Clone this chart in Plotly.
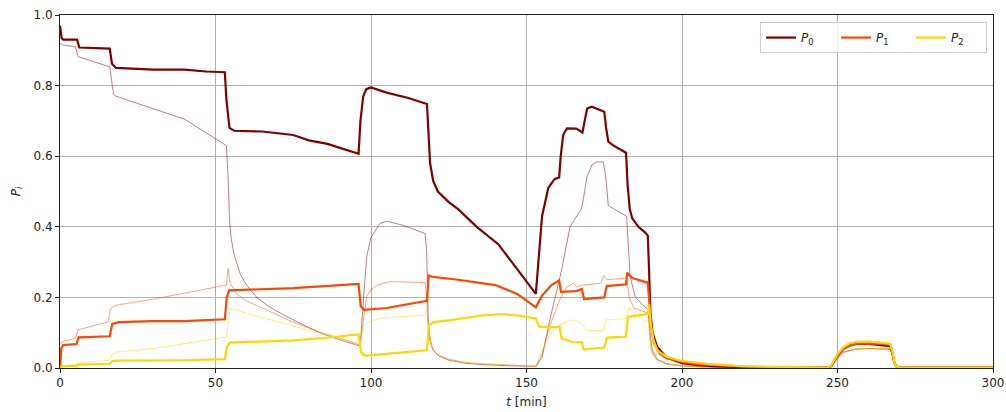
import plotly.graph_objects as go

# ---- data ----
t_p0 = [0, 0.5, 1, 5.5, 6.2, 16, 16.7, 18, 30, 40, 47, 53, 53.5, 54.5, 56, 65, 75, 80, 86, 96,
        96.6, 97.5, 98.5, 100, 105, 112, 118, 118.5, 119, 120, 121.5, 125, 128, 134, 141, 147, 153,
        154, 155, 157, 159, 160.5, 161, 161.8, 163, 166, 168, 168.7, 169.5, 171, 175, 175.6, 176.3, 178, 182,
        182.5, 183.2, 184, 186, 188, 189, 189.4, 189.8, 190.5, 192, 195, 200, 205, 210, 220, 230, 247,
        248, 249, 250, 252, 254, 256, 260, 264, 267, 267.7, 268.3, 269, 270, 300]
p0 = [0.97, 0.935, 0.93, 0.93, 0.908, 0.905, 0.862, 0.85, 0.845, 0.845, 0.84, 0.838, 0.76, 0.68, 0.672, 0.67, 0.66, 0.645, 0.635, 0.607,
      0.70, 0.77, 0.79, 0.795, 0.78, 0.765, 0.748, 0.66, 0.58, 0.53, 0.5, 0.47, 0.45, 0.40, 0.35, 0.28, 0.21,
      0.32, 0.43, 0.51, 0.535, 0.54, 0.6, 0.66, 0.679, 0.678, 0.667, 0.70, 0.735, 0.74, 0.726, 0.68, 0.641, 0.63, 0.61,
      0.52, 0.45, 0.424, 0.40, 0.385, 0.375, 0.28, 0.16, 0.10, 0.06, 0.03, 0.014, 0.008, 0.005, 0.002, 0.001, 0.001,
      0.006, 0.02, 0.035, 0.055, 0.064, 0.068, 0.068, 0.065, 0.062, 0.04, 0.015, 0.004, 0.001, 0.001]

t_p1 = [0, 0.4, 1, 5.3, 6, 16, 16.8, 19, 30, 40, 53, 53.6, 54.4, 60, 75, 85, 96,
        96.7, 97.8, 105, 118, 118.5, 120, 128, 140, 147, 153, 155, 158, 160.5, 161.1, 166, 167.8, 168.5, 175, 175.8, 182,
        182.4, 184, 189, 189.5, 190.2, 191, 193, 195, 200, 205, 210, 220, 230, 247,
        248, 249, 250, 252, 254, 256, 260, 264, 267, 267.7, 268.3, 269, 270, 300]
p1 = [0.0, 0.055, 0.065, 0.068, 0.087, 0.09, 0.125, 0.13, 0.133, 0.133, 0.138, 0.2, 0.22, 0.222, 0.226, 0.232, 0.238,
      0.175, 0.165, 0.17, 0.19, 0.262, 0.258, 0.25, 0.235, 0.21, 0.172, 0.205, 0.235, 0.248, 0.216, 0.218, 0.224, 0.195, 0.2, 0.232, 0.237,
      0.27, 0.255, 0.242, 0.18, 0.11, 0.07, 0.04, 0.028, 0.017, 0.011, 0.008, 0.004, 0.002, 0.001,
      0.006, 0.02, 0.035, 0.055, 0.064, 0.069, 0.07, 0.068, 0.066, 0.04, 0.015, 0.004, 0.001, 0.001]

t_p2 = [0, 1, 5.3, 6, 16, 16.8, 19, 40, 53, 53.7, 54.6, 65, 75, 85, 96,
        96.8, 98, 105, 118, 118.6, 120, 125, 135, 142, 148, 153, 154, 158, 160.6, 161.3, 165, 167.8, 168.4, 175, 175.9, 182,
        182.6, 189, 189.4, 190, 190.8, 192, 195, 200, 205, 210, 220, 230, 247,
        248, 249, 250, 252, 254, 256, 260, 264, 267, 267.7, 268.3, 269, 270, 300]
p2 = [0.003, 0.005, 0.006, 0.01, 0.012, 0.02, 0.021, 0.022, 0.025, 0.06, 0.072, 0.074, 0.078, 0.085, 0.095,
      0.045, 0.035, 0.04, 0.05, 0.12, 0.13, 0.135, 0.148, 0.153, 0.148, 0.14, 0.117, 0.115, 0.117, 0.084, 0.073, 0.073, 0.053, 0.058, 0.086, 0.089,
      0.145, 0.153, 0.18, 0.12, 0.08, 0.05, 0.032, 0.02, 0.014, 0.01, 0.005, 0.003, 0.001,
      0.008, 0.025, 0.04, 0.06, 0.07, 0.074, 0.075, 0.072, 0.068, 0.045, 0.015, 0.004, 0.001, 0.001]

# thin (secondary) curves
t_q0 = [0, 1, 5, 5.8, 16, 16.5, 17.2, 18, 30, 40, 53.5, 54, 54.5, 55, 56, 58, 60, 63, 67, 72, 78, 84, 90, 96.5,
        97.3, 98.6, 100, 102.9, 105, 110, 117.4, 117.9, 118.4, 119, 120, 122, 125, 130, 135, 145, 153,
        155, 157.5, 159.5, 161.3, 164, 167.7, 168.5, 169.4, 171, 172.6, 174.7, 175.5, 176.3, 182.2, 183.3, 185, 189.2,
        189.8, 190.5, 192, 195, 200, 210, 230, 247, 248, 249, 250, 252, 256, 260, 267, 267.7, 268.3, 269, 270, 300]
q0 = [0.92, 0.915, 0.91, 0.882, 0.853, 0.82, 0.775, 0.77, 0.735, 0.705, 0.63, 0.55, 0.42, 0.37, 0.32, 0.265, 0.235, 0.202, 0.175, 0.15, 0.123, 0.098, 0.08, 0.062,
      0.16, 0.315, 0.37, 0.41, 0.416, 0.405, 0.381, 0.33, 0.14, 0.08, 0.05, 0.033, 0.022, 0.014, 0.01, 0.006, 0.005,
      0.03, 0.136, 0.21, 0.278, 0.4, 0.452, 0.49, 0.54, 0.575, 0.584, 0.584, 0.54, 0.46, 0.43, 0.26, 0.2, 0.164,
      0.09, 0.05, 0.025, 0.012, 0.006, 0.002, 0.001, 0.001, 0.004, 0.015, 0.028, 0.045, 0.054, 0.055, 0.053, 0.035, 0.012, 0.003, 0.001, 0.001]

t_q1 = [0, 1, 5, 5.8, 15.5, 16.2, 17, 18, 30, 53.5, 54, 54.7, 56.8, 60, 65, 75, 84, 90, 96.5,
        97.3, 98.6, 100, 102, 106, 117.4, 117.9, 118.5, 119.5, 121, 125, 130, 135, 145, 153,
        155, 157.5, 161, 163, 165, 166.2, 168, 174, 174.8, 175.8, 182.2, 183, 184.5, 189.2,
        189.8, 190.5, 192, 195, 200, 210, 230, 247, 248, 249, 250, 252, 256, 260, 267, 267.7, 268.3, 269, 270, 300]
q1 = [0.07, 0.075, 0.085, 0.108, 0.131, 0.165, 0.174, 0.178, 0.195, 0.235, 0.282, 0.24, 0.21, 0.19, 0.17, 0.13, 0.1, 0.085, 0.065,
      0.12, 0.202, 0.222, 0.235, 0.245, 0.242, 0.2, 0.1, 0.06, 0.04, 0.025, 0.016, 0.012, 0.007, 0.005,
      0.04, 0.12, 0.2, 0.23, 0.24, 0.23, 0.235, 0.24, 0.262, 0.25, 0.255, 0.2, 0.17, 0.155,
      0.07, 0.04, 0.022, 0.012, 0.006, 0.002, 0.001, 0.001, 0.004, 0.015, 0.028, 0.045, 0.054, 0.056, 0.054, 0.035, 0.012, 0.003, 0.001, 0.001]

t_q2 = [0, 1, 5, 5.8, 16, 16.8, 18, 30, 53.5, 54, 54.7, 60, 70, 83.6, 90, 96.5,
        97.5, 99, 102.9, 110, 117.4, 118, 118.6, 119.5, 121, 125, 130, 135, 145, 153,
        155, 158, 160.8, 164, 166.5, 168, 169.4, 174.8, 175.5, 182.2, 183, 185, 189.2,
        189.8, 190.5, 192, 195, 200, 210, 230, 247, 248, 249, 250, 252, 256, 260, 267, 267.7, 268.3, 269, 270, 300]
q2 = [0.005, 0.007, 0.01, 0.015, 0.022, 0.04, 0.045, 0.055, 0.088, 0.13, 0.169, 0.155, 0.13, 0.098, 0.085, 0.068,
      0.117, 0.13, 0.141, 0.146, 0.15, 0.165, 0.1, 0.06, 0.04, 0.025, 0.016, 0.012, 0.007, 0.005,
      0.05, 0.1, 0.122, 0.136, 0.132, 0.122, 0.106, 0.106, 0.136, 0.14, 0.172, 0.15, 0.131,
      0.07, 0.04, 0.022, 0.012, 0.006, 0.002, 0.001, 0.001, 0.004, 0.015, 0.028, 0.045, 0.054, 0.056, 0.054, 0.035, 0.012, 0.003, 0.001, 0.001]

names = ["<i>P</i><sub>0</sub>", "<i>P</i><sub>1</sub>", "<i>P</i><sub>2</sub>"]
colors = ["#800000", "#FF4500", "#FFD700"]
thin_colors = ["rgba(128,0,0,0.5)", "rgba(255,69,0,0.5)", "rgba(255,215,0,0.5)"]

fig = go.Figure()
for (tx, ty), c in zip([(t_q0, q0), (t_q1, q1), (t_q2, q2)], thin_colors):
    fig.add_trace(go.Scatter(x=tx, y=ty, mode="lines", line=dict(color=c, width=1),
                             showlegend=False))
for (tx, ty), c, n in zip([(t_p0, p0), (t_p1, p1), (t_p2, p2)], colors, names):
    fig.add_trace(go.Scatter(x=tx, y=ty, mode="lines", name=n, line=dict(color=c, width=2.2)))

axis_common = dict(showgrid=True, gridcolor="#b0b0b0", gridwidth=1, zeroline=False,
                   showline=True, linecolor="#222", linewidth=1, mirror=True,
                   ticks="outside", ticklen=4, tickcolor="#222", automargin=False,
                   tickfont=dict(family="DejaVu Sans", size=12, color="#222"))

fig.update_xaxes(range=[0, 300], tickvals=[0, 50, 100, 150, 200, 250, 300],
                 title=dict(text="<i>t</i> [min]", font=dict(family="DejaVu Sans", size=12, color="#222"), standoff=8),
                 **axis_common)
fig.update_yaxes(range=[0, 1], tickvals=[0, 0.2, 0.4, 0.6, 0.8, 1.0], tickformat=".1f",
                 title=dict(text="<i>P<sub>i</sub></i>", font=dict(family="DejaVu Sans", size=12, color="#222"), standoff=10),
                 **axis_common)

fig.update_layout(
    width=1006, height=412,
    margin=dict(l=60, r=13, t=15, b=44),
    plot_bgcolor="white", paper_bgcolor="white",
    font=dict(family="DejaVu Sans", size=12, color="#222"),
    legend=dict(orientation="h", x=0.9936, xanchor="right", y=0.98, yanchor="top",
                bgcolor="rgba(255,255,255,0.8)", bordercolor="#cccccc", borderwidth=1,
                font=dict(family="DejaVu Sans", size=12), tracegroupgap=0,
                entrywidth=30, entrywidthmode="pixels", itemwidth=30),
)

fig.write_html("out.html")
